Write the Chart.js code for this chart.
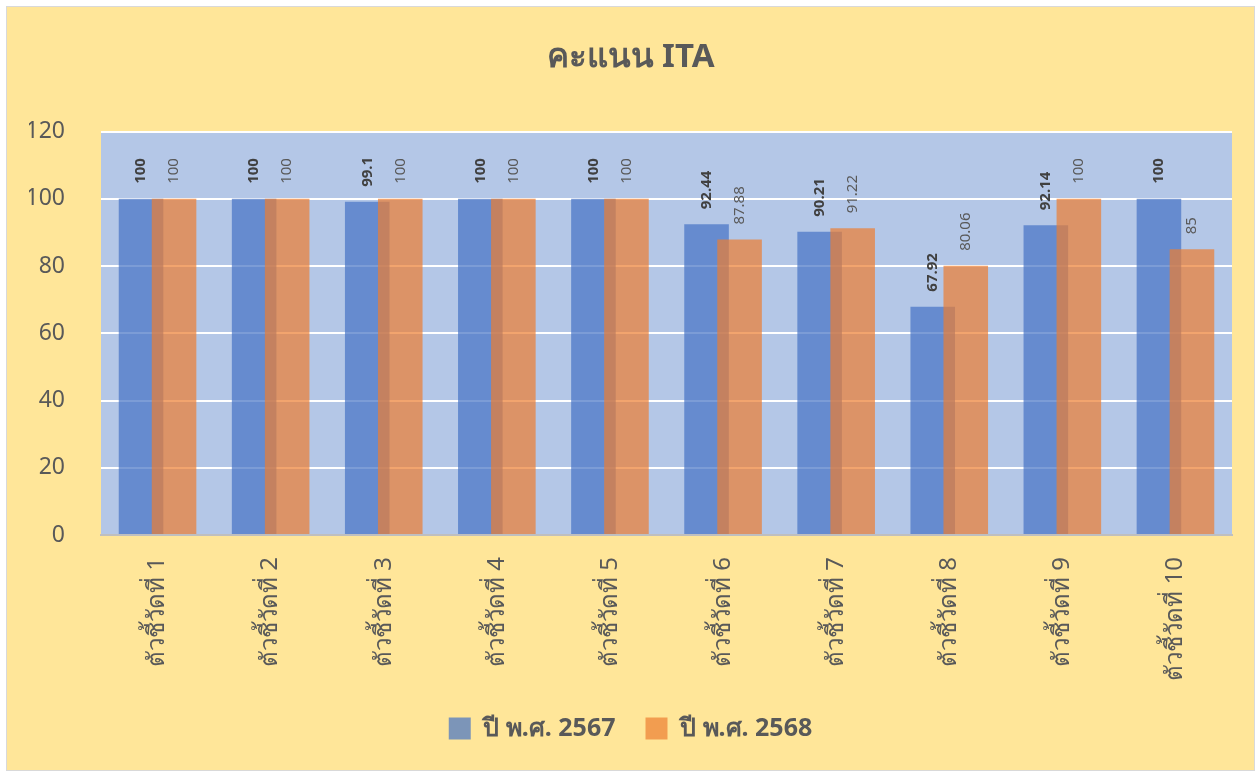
<!DOCTYPE html>
<html lang="th">
<head>
<meta charset="utf-8">
<title>คะแนน ITA</title>
<script src="https://cdn.jsdelivr.net/npm/chart.js@4"></script>
<style>
  html, body { margin: 0; padding: 0; background: #fff; }
  #frame {
    position: absolute; left: 6px; top: 6px;
    width: 1247px; height: 763px;
    border: 1px solid #D9D9D9;
    background: #FFE699;
  }
</style>
</head>
<body>
<div id="frame"><canvas id="ita"></canvas></div>
<script>
/* values */
const indicators = ["ตัวชี้วัดที่ 1", "ตัวชี้วัดที่ 2", "ตัวชี้วัดที่ 3", "ตัวชี้วัดที่ 4", "ตัวชี้วัดที่ 5",
                    "ตัวชี้วัดที่ 6", "ตัวชี้วัดที่ 7", "ตัวชี้วัดที่ 8", "ตัวชี้วัดที่ 9", "ตัวชี้วัดที่ 10"];
const score2567 = [100, 100, 99.1, 100, 100, 92.44, 90.21, 67.92, 92.14, 100];
const score2568 = [100, 100, 100, 100, 100, 87.88, 91.22, 80.06, 100, 85];
const yTicks = [0, 20, 40, 60, 80, 100, 120];

const FONT = "'Noto Sans', 'DejaVu Sans', sans-serif";
const GREY = "#595959";

/* light blue plot area */
const plotBg = {
  id: "plotBg",
  beforeDraw(chart) {
    const { ctx, chartArea: a } = chart;
    ctx.save();
    ctx.fillStyle = "#B4C7E7";
    ctx.fillRect(a.left, a.top, a.right - a.left, a.bottom - a.top);
    ctx.restore();
  },
};

/* 2568 bars sit on top of 2567 bars where they overlap */
const orangeOnTop = {
  id: "orangeOnTop",
  beforeDatasetDraw(chart, args) {
    if (args.index === 1) return false;
  },
  afterDatasetsDraw(chart) {
    chart.getDatasetMeta(1).controller.draw();
  },
};

/* vertical value labels above each bar */
const valueLabels = {
  id: "valueLabels",
  afterDatasetsDraw(chart) {
    const { ctx } = chart;
    chart.data.datasets.forEach((ds, i) => {
      const meta = chart.getDatasetMeta(i);
      meta.data.forEach((bar, j) => {
        ctx.save();
        ctx.translate(bar.x, bar.y - 15);
        ctx.rotate(-Math.PI / 2);
        ctx.font = (i === 0 ? "bold " : "") + "15px " + FONT;
        ctx.fillStyle = i === 0 ? "#404040" : GREY;
        ctx.textAlign = "left";
        ctx.textBaseline = "middle";
        ctx.fillText(String(ds.data[j]), 0, 0);
        ctx.restore();
      });
    });
  },
};

new Chart(document.getElementById("ita"), {
  type: "bar",
  data: {
    labels: indicators,
    datasets: [
      {
        label: "ปี พ.ศ. 2567",
        data: score2567,
        backgroundColor: "rgba(68,114,196,0.7)",
        borderWidth: 0,
      },
      {
        label: "ปี พ.ศ. 2568",
        data: score2568,
        backgroundColor: "rgba(237,125,49,0.7)",
        borderWidth: 0,
      },
    ],
  },
  options: {
    responsive: true,
    maintainAspectRatio: false,
    animation: false,
    categoryPercentage: 0.584,
    barPercentage: 1.35,
    layout: { padding: { left: 22, right: 22, top: 0, bottom: 19 } },
    plugins: {
      title: {
        display: true,
        text: "คะแนน ITA",
        color: GREY,
        font: { family: FONT, size: 33, weight: "bold" },
        padding: { top: 31, bottom: 54 },
      },
      legend: {
        position: "bottom",
        labels: {
          color: GREY,
          font: { family: FONT, size: 25, weight: "bold" },
          boxWidth: 22,
          boxHeight: 22,
          padding: 30,
        },
      },
      tooltip: { enabled: false },
    },
    scales: {
      x: {
        grid: { display: false, drawTicks: false },
        border: { color: "#BFBFBF", width: 2 },
        ticks: {
          color: GREY,
          font: { family: FONT, size: 24 },
          minRotation: 90,
          maxRotation: 90,
          padding: 22,
        },
        afterFit(scale) { scale.height = 151; },
      },
      y: {
        min: 0,
        max: 120,
        afterBuildTicks(scale) { scale.ticks = yTicks.map((v) => ({ value: v })); },
        grid: { color: "#FFFFFF", lineWidth: 2, drawTicks: false },
        border: { display: false },
        ticks: {
          color: GREY,
          font: { family: FONT, size: 23 },
          padding: 36,
        },
        afterFit(scale) { scale.width = 72; },
      },
    },
  },
  plugins: [plotBg, orangeOnTop, valueLabels],
});
</script>
</body>
</html>
